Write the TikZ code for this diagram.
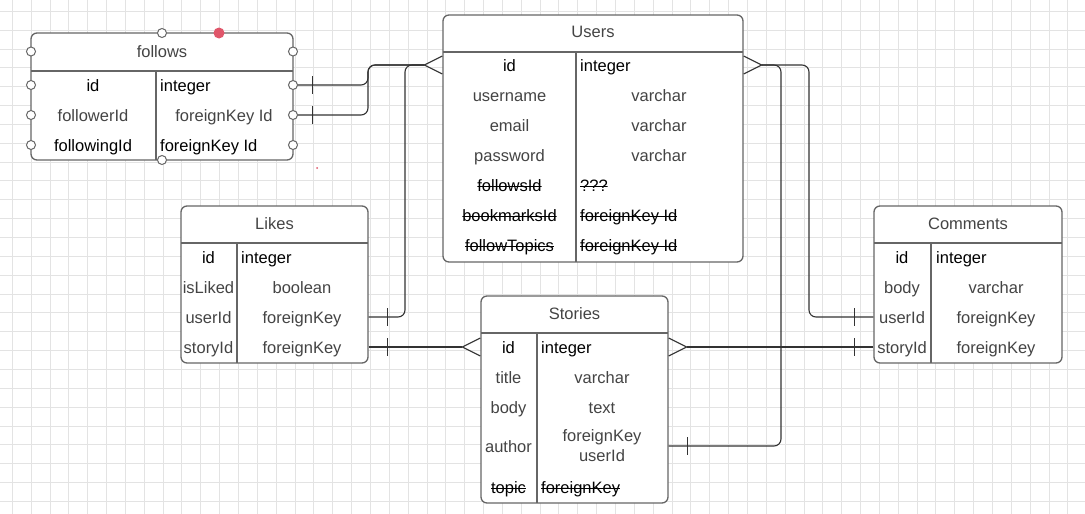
\documentclass[tikz,border=0pt]{standalone}
\usepackage{fontspec}
\setmainfont{Liberation Sans}
\definecolor{txt}{HTML}{444444}
\definecolor{edge}{HTML}{333333}
\definecolor{frame}{HTML}{666666}
\definecolor{dot}{HTML}{E0566A}

\begin{document}
\begin{tikzpicture}[x=1pt,y=-1pt,
    tbl/.style={draw=frame,line width=1.3pt,fill=white,rounded corners=6pt,inner sep=0pt},
    fld/.style={font=\fontsize{16.5}{20}\selectfont,text=txt,inner sep=0pt,text height=15pt,text depth=3pt},
    key/.style={fld,text=black},
    gone/.style={key,path picture={\draw[black,line width=1.1pt]
        ([yshift=-1.7pt]path picture bounding box.west) -- ([yshift=-1.7pt]path picture bounding box.east);}},
    rule/.style={draw=frame,line width=1.3pt},
    rel/.style={draw=edge,line width=1.1pt,rounded corners=7pt},
    many/.style={rel,shorten >=18pt},
    tick/.pic={\draw[edge,line width=1.1pt,sharp corners,shorten >=0pt] (0,-9) -- (0,9);},
    crow/.pic={\draw[edge,line width=1.1pt,sharp corners,shorten >=0pt] (0,-9) -- (-18,0) -- (0,9);},
    port/.style={draw=frame,fill=white,line width=1pt},
    gridline/.style={draw=gray!22,line width=1pt}]
  \useasboundingbox (0,0) rectangle (1085,514);
  \fill[white] (0,0) rectangle (1085,514);
  \foreach \i in {0,...,56} \draw[gridline] ({12.3+\i*18.85},0) -- ++(0,514);
  \foreach \j in {0,...,26} \draw[gridline] (0,{11.3+\j*18.85}) -- ++(1085,0);

  % tables
  \node[tbl,minimum width=262pt,minimum height=127pt] (follows) at (162,96.5) {};
  \node[tbl,minimum width=300pt,minimum height=247pt] (users) at (593,138.5) {};
  \node[tbl,minimum width=187pt,minimum height=157pt] (likes) at (274.5,284.5) {};
  \node[tbl,minimum width=187pt,minimum height=207pt] (stories) at (574.5,399.5) {};
  \node[tbl,minimum width=188pt,minimum height=157pt] (comments) at (968,284.5) {};
  \draw[rule] (31,71) -- (293,71) (156,71) -- (156,160);
  \draw[rule] (443,52) -- (743,52) (576,52) -- (576,262);
  \draw[rule] (181,243) -- (368,243) (237,243) -- (237,363);
  \draw[rule] (481,333) -- (668,333) (537,333) -- (537,503);
  \draw[rule] (874,243) -- (1062,243) (931,243) -- (931,363);

  % follows
  \node[fld] (followsh) at (162,51) {follows};
  \node[key] (fid) at (93,85) {id};
  \node[fld] (ffer) at (93,115) {followerId};
  \node[key] (fing) at (93,145) {followingId};
  \node[key,anchor=west] (fidt) at (160,85) {integer};
  \node[fld] (fert) at (224,115) {foreignKey Id};
  \node[key,anchor=west] (fingt) at (160,145) {foreignKey Id};

  % users
  \node[fld] (usersh) at (593,31) {Users};
  \node[key] (uid) at (509.5,65) {id};
  \node[fld] (uname) at (509.5,95.5) {username};
  \node[fld] (uemail) at (509.5,125) {email};
  \node[fld] (upass) at (509.5,155) {password};
  \node[gone] (ufol) at (509.5,185) {followsId};
  \node[gone] (ubook) at (509.5,215) {bookmarksId};
  \node[gone] (utop) at (509.5,245) {followTopics};
  \node[key,anchor=west] (uidt) at (580,65) {integer};
  \node[fld] (unamet) at (659,95.5) {varchar};
  \node[fld] (uemailt) at (659,125) {varchar};
  \node[fld] (upasst) at (659,155) {varchar};
  \node[gone,anchor=west] (ufolt) at (580,185) {???};
  \node[gone,anchor=west] (ubookt) at (580,215) {foreignKey Id};
  \node[gone,anchor=west] (utopt) at (580,245) {foreignKey Id};

  % likes
  \node[fld] (likesh) at (274.5,223) {Likes};
  \node[key] (lid) at (208.5,257.5) {id};
  \node[fld] (lliked) at (208.5,287) {isLiked};
  \node[fld] (luser) at (208.5,317) {userId};
  \node[fld] (lstory) at (208.5,347) {storyId};
  \node[key,anchor=west] (lidt) at (241,257.5) {integer};
  \node[fld] (llikedt) at (302,287) {boolean};
  \node[fld] (lusert) at (302,317) {foreignKey};
  \node[fld] (lstoryt) at (302,347) {foreignKey};

  % stories
  \node[fld] (storiesh) at (574.5,313) {Stories};
  \node[key] (sid) at (508.5,347) {id};
  \node[fld] (stitle) at (508.5,377) {title};
  \node[fld] (sbody) at (508.5,407) {body};
  \node[fld] (sauth) at (508.5,446) {author};
  \node[gone] (stopic) at (508.5,487) {topic};
  \node[key,anchor=west] (sidt) at (541,347) {integer};
  \node[fld] (stitlet) at (602,377) {varchar};
  \node[fld] (sbodyt) at (602,407) {text};
  \node[fld,align=center,text height={},text depth={}] (sautht) at (602,446) {foreignKey\\userId};
  \node[gone,anchor=west] (stopict) at (541,487) {foreignKey};

  % comments
  \node[fld] (commentsh) at (968,223) {Comments};
  \node[key] (cid) at (902,257.5) {id};
  \node[fld] (cbody) at (902,287) {body};
  \node[fld] (cuser) at (902,317) {userId};
  \node[fld] (cstory) at (902,347) {storyId};
  \node[key,anchor=west] (cidt) at (936,257.5) {integer};
  \node[fld] (cbodyt) at (996,287) {varchar};
  \node[fld] (cusert) at (996,317) {foreignKey};
  \node[fld] (cstoryt) at (996,347) {foreignKey};

  % relations
  \coordinate (fj) at (368,65);
  \coordinate (lj) at (405,65);
  \coordinate (rj1) at (781,65);
  \coordinate (rj2) at (809,65);
  \draw[many] (follows.east |- fid) -- ++(19,0) pic{tick} -| (fj) -- (users.west |- uid) pic{crow};
  \draw[many] (follows.east |- ffer) -- ++(19,0) pic{tick} -| (fj) -- (users.west |- uid);
  \draw[many] (likes.east |- luser) -- ++(19,0) pic{tick} -| (lj) -- (users.west |- uid);
  \draw[many] (likes.east |- lstory) -- ++(19,0) pic{tick} -- (stories.west |- sid) pic{crow};
  \draw[many] (stories.east |- sauth) -- ++(19,0) pic{tick} -| (rj1) -- (users.east |- uid) pic[xscale=-1]{crow};
  \draw[many] (comments.west |- cuser) -- ++(-19,0) pic{tick} -| (rj2) -- (users.east |- uid);
  \draw[many] (comments.west |- cstory) -- ++(-19,0) pic{tick} -- (stories.east |- sid) pic[xscale=-1]{crow};

  % connection points on follows
  \foreach \p in {(31,51.5),(31,85),(31,115),(31,145),(293,51.5),(293,85),(293,115),(293,145),(162,33),(162,160)}
    \draw[port] \p circle (4.5);
  \fill[dot] (219,33) circle (5.5);
  \fill[dot] (317,168) circle (1);
\end{tikzpicture}
\end{document}
